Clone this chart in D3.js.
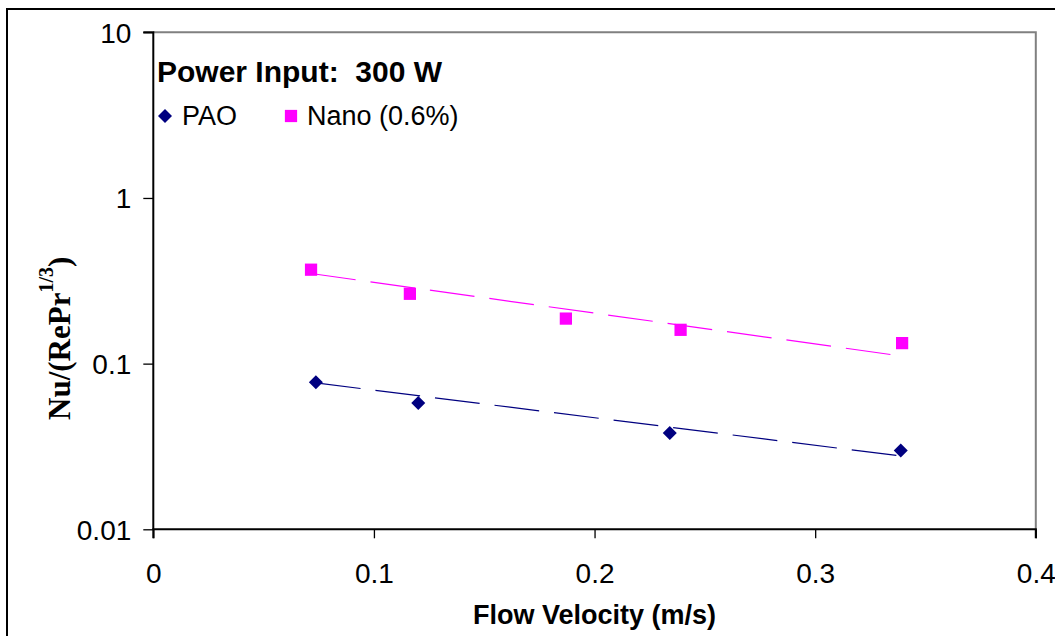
<!DOCTYPE html>
<html>
<head>
<meta charset="utf-8">
<script src="https://cdn.jsdelivr.net/npm/d3@7"></script>
<style>
  body { margin: 0; background: #fff; }
  svg { display: block; font-family: Arial, "Liberation Sans", sans-serif; }
</style>
</head>
<body>
<div id="chart"></div>
<script>
// chart size
const width = 1055
const height = 636

// data
const paoVelocity = [0.0737, 0.1201, 0.2341, 0.3388];
const paoValue = [0.0773, 0.0578, 0.0381, 0.0299];
const nanoVelocity = [0.0715, 0.1163, 0.187, 0.239, 0.3394];
const nanoValue = [0.369, 0.264, 0.187, 0.160, 0.133];
// trendline ends (exponential fits, straight on the log axis)
const paoTrendX = [0.0737, 0.3388];
const paoTrendY = [0.0765, 0.0277];
const nanoTrendX = [0.0715, 0.3394];
const nanoTrendY = [0.350, 0.111];

const xTicks = [0, 0.1, 0.2, 0.3, 0.4];
const yTicks = [0.01, 0.1, 1, 10];
const yTickLabels = ['0.01', '0.1', '1', '10'];

const plot = {left: 153.3, right: 1035.8, top: 32.3, bottom: 529.3};

var svg = d3.select('#chart').append('svg')
	.attr('width', width)
	.attr('height', height);

// outer chart frame (runs off the right and bottom edge)
svg.append('rect')
	.attr('x', 7).attr('y', 9)
	.attr('width', 1100).attr('height', 700)
	.attr('fill', 'none').attr('stroke', '#000').attr('stroke-width', 2);

var x = d3.scaleLinear().domain([0, 0.4]).range([plot.left, plot.right]);
var y = d3.scaleLog().domain([0.01, 10]).range([plot.bottom, plot.top]);

// gray top/right frame of the plot area
svg.append('path')
	.attr('d', 'M' + x(0) + ',' + y(10) + 'H' + x(0.4) + 'V' + y(0.01))
	.attr('fill', 'none').attr('stroke', '#808080').attr('stroke-width', 2);

// axes
var xAxis = svg.append('g')
	.attr('transform', 'translate(0,' + plot.bottom + ')')
	.call(d3.axisBottom(x).tickValues(xTicks).tickSize(9).tickPadding(25)
		.tickFormat(d3.format('~g')));
var yAxis = svg.append('g')
	.attr('transform', 'translate(' + plot.left + ',0)')
	.call(d3.axisLeft(y).tickValues(yTicks).tickSize(10).tickPadding(12)
		.tickFormat(function(d, i){ return yTickLabels[i]; }));

[xAxis, yAxis].forEach(function(g){
	g.select('.domain').attr('stroke', '#000').attr('stroke-width', 2);
	g.selectAll('.tick line').attr('stroke', '#000').attr('stroke-width', 1.3);
	g.selectAll('.tick text')
		.attr('fill', '#000')
		.style('font-size', '28px')
		.style('font-family', 'Arial, "Liberation Sans", sans-serif');
});
xAxis.select('.domain').attr('d', 'M' + x(0) + ',9V0H' + x(0.4) + 'V9');
yAxis.select('.domain').attr('d', 'M-10,' + y(10) + 'H0V' + y(0.01));
xAxis.selectAll('.tick text').attr('dy', '0.71em');
yAxis.selectAll('.tick text').attr('dy', '0.35em');

// trendlines
var line = d3.line()
	.x(function(d){ return x(d[0]); })
	.y(function(d){ return y(d[1]); });

svg.append('path')
	.datum(d3.zip(paoTrendX, paoTrendY))
	.attr('d', line)
	.attr('fill', 'none').attr('stroke', '#000080')
	.attr('stroke-width', 1.2).attr('stroke-dasharray', '45,15');
svg.append('path')
	.datum(d3.zip(nanoTrendX, nanoTrendY))
	.attr('d', line)
	.attr('fill', 'none').attr('stroke', '#ff00ff')
	.attr('stroke-width', 1.2).attr('stroke-dasharray', '45,15');

// markers
var diamond = d3.symbol().type(d3.symbolDiamond2).size(125);
var square = d3.symbol().type(d3.symbolSquare).size(150);

svg.append('g').selectAll('path')
	.data(d3.zip(paoVelocity, paoValue)).enter()
	.append('path')
	.attr('d', diamond)
	.attr('transform', function(d){ return 'translate(' + x(d[0]) + ',' + y(d[1]) + ')'; })
	.attr('fill', '#000080');
svg.append('g').selectAll('path')
	.data(d3.zip(nanoVelocity, nanoValue)).enter()
	.append('path')
	.attr('d', square)
	.attr('transform', function(d){ return 'translate(' + x(d[0]) + ',' + y(d[1]) + ')'; })
	.attr('fill', '#ff00ff');

// legend
svg.append('text')
	.attr('x', 157).attr('y', 82)
	.style('font-size', '30px').style('font-weight', 'bold')
	.attr('xml:space', 'preserve')
	.text('Power Input:  300 W');
svg.append('path')
	.attr('d', diamond)
	.attr('transform', 'translate(165,116)')
	.attr('fill', '#000080');
svg.append('text')
	.attr('x', 182).attr('y', 125)
	.style('font-size', '27px')
	.text('PAO');
svg.append('path')
	.attr('d', square)
	.attr('transform', 'translate(291,116)')
	.attr('fill', '#ff00ff');
svg.append('text')
	.attr('x', 307).attr('y', 125)
	.style('font-size', '27px')
	.text('Nano (0.6%)');

// axis titles
svg.append('text')
	.attr('x', (plot.left + plot.right) / 2).attr('y', 624)
	.attr('text-anchor', 'middle')
	.style('font-size', '27px').style('font-weight', 'bold')
	.text('Flow Velocity (m/s)');

var yTitle = svg.append('text')
	.attr('transform', 'translate(70,420) rotate(-90)')
	.style('font-family', '"Liberation Serif", "Times New Roman", serif')
	.style('font-size', '31px').style('font-weight', 'bold');
yTitle.append('tspan').text('Nu/(RePr');
yTitle.append('tspan').attr('dy', -17).style('font-size', '20px').text('1/3');
yTitle.append('tspan').attr('dy', 17).text(')');
</script>
</body>
</html>
